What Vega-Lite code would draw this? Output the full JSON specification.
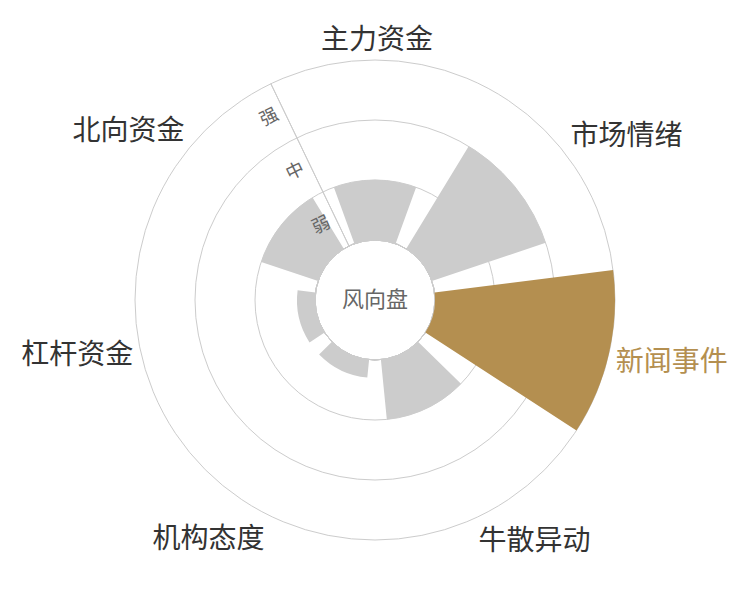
{
  "$schema": "https://vega.github.io/schema/vega-lite/v6.json",
  "width": 750,
  "height": 600,
  "padding": 0,
  "autosize": {"type": "none"},
  "background": "white",
  "config": {"view": {"stroke": null}, "font": "Noto Sans CJK SC"},
  "datasets": {
    "wind": [
      {"cat": "主力资金", "v": 1},
      {"cat": "市场情绪", "v": 2},
      {"cat": "新闻事件", "v": 3},
      {"cat": "牛散异动", "v": 1},
      {"cat": "机构态度", "v": 0.3},
      {"cat": "杠杆资金", "v": 0.3},
      {"cat": "北向资金", "v": 1}
    ],
    "rings": [{"v": 0}, {"v": 1}, {"v": 2}, {"v": 3}],
    "levels": [
      {"v": 1, "t": "弱"},
      {"v": 2, "t": "中"},
      {"v": 3, "t": "强"}
    ],
    "centre": [{"label": "风向盘"}]
  },
  "layer": [
    {
      "data": {"name": "rings"},
      "mark": {"type": "arc", "theta": 0, "theta2": 6.2832, "fill": "transparent", "stroke": "#cccccc", "strokeWidth": 1},
      "encoding": {
        "radius": {"field": "v", "type": "quantitative", "stack": null, "scale": {"type": "linear", "domain": [0, 3], "range": [60, 240], "zero": false}}
      }
    },
    {
      "data": {"name": "wind"},
      "mark": {"type": "arc", "strokeWidth": 0},
      "encoding": {
        "theta": {
          "field": "cat", "type": "nominal", "sort": null,
          "scale": {"type": "band", "range": [-0.448799, 5.834386], "paddingInner": 0.22, "paddingOuter": 0.11}
        },
        "radius": {"field": "v", "type": "quantitative", "stack": null, "scale": {"type": "linear", "domain": [0, 3], "range": [60, 240], "zero": false}},
        "radius2": {"datum": 0},
        "color": {
          "condition": {"test": "datum.cat == '新闻事件'", "value": "#b48f50"},
          "value": "#cccccc"
        }
      }
    },
    {
      "data": {"name": "rings"},
      "transform": [{"filter": "datum.v == 3"}],
      "mark": {"type": "arc", "theta": -0.448799, "theta2": -0.4487, "fill": "transparent", "stroke": "#cccccc", "strokeWidth": 1},
      "encoding": {
        "radius": {"field": "v", "type": "quantitative", "stack": null, "scale": {"type": "linear", "domain": [0, 3], "range": [60, 240], "zero": false}},
        "radius2": {"datum": 0}
      }
    },
    {
      "data": {"name": "levels"},
      "mark": {"type": "text", "theta": -0.448799, "angle": 334.3, "dx": -16, "dy": 30, "align": "center", "baseline": "middle", "fontSize": 18, "color": "#666666"},
      "encoding": {
        "radius": {"field": "v", "type": "quantitative", "stack": null, "scale": {"type": "linear", "domain": [0, 3], "range": [60, 240], "zero": false}},
        "text": {"field": "t"}
      }
    },
    {
      "data": {"name": "wind"},
      "mark": {
        "type": "text",
        "radius": 250,
        "fontSize": 28,
        "align": {"expr": "datum.cat == '主力资金' ? 'center' : indexof(['市场情绪','新闻事件','牛散异动'], datum.cat) >= 0 ? 'left' : 'right'"},
        "baseline": {"expr": "indexof(['主力资金','市场情绪','北向资金'], datum.cat) >= 0 ? 'bottom' : indexof(['新闻事件','杠杆资金'], datum.cat) >= 0 ? 'middle' : 'top'"},
        "dx": {"expr": "[2, 0, -3, -5, -2, 2, 5][indexof(['主力资金','市场情绪','新闻事件','牛散异动','机构态度','杠杆资金','北向资金'], datum.cat)]"},
        "dy": {"expr": "[5, 7, 7, 3, 1, 0, 2][indexof(['主力资金','市场情绪','新闻事件','牛散异动','机构态度','杠杆资金','北向资金'], datum.cat)]"}
      },
      "encoding": {
        "theta": {
          "field": "cat", "type": "nominal", "sort": null, "bandPosition": 0.5,
          "scale": {"type": "band", "range": [-0.448799, 5.834386], "paddingInner": 0.22, "paddingOuter": 0.11}
        },
        "text": {"field": "cat"},
        "color": {
          "condition": {"test": "datum.cat == '新闻事件'", "value": "#b48f50"},
          "value": "#333333"
        }
      }
    },
    {
      "data": {"name": "centre"},
      "mark": {"type": "text", "fontSize": 22, "color": "#666666", "align": "center", "baseline": "middle"},
      "encoding": {"text": {"field": "label"}}
    }
  ]
}
